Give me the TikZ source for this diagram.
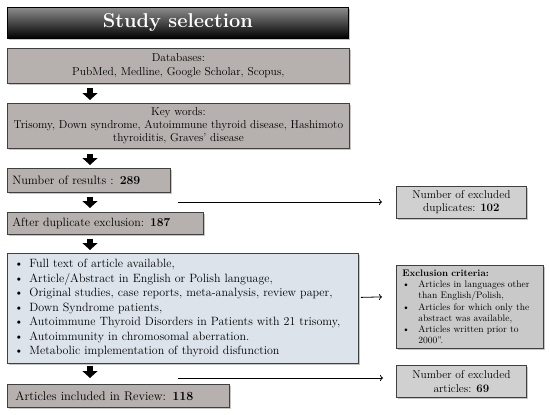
\documentclass[tikz,border=0pt]{standalone}
\usetikzlibrary{shadows,calc,arrows.meta}
\definecolor{boxgray}{HTML}{B6B0AE}
\definecolor{dupgray}{HTML}{D0D0D0}
\definecolor{exgray}{HTML}{C9C9C9}
\definecolor{critblue}{HTML}{DCE3EB}
\definecolor{edge}{HTML}{404040}
\newcommand\bl{\makebox[15pt][l]{\textbullet}}
\newcommand\sbl{\makebox[16pt][l]{\textbullet}}
\tikzset{
  box/.style={draw=edge, line width=0.8pt, anchor=north west, inner sep=0pt,
    drop shadow={shadow xshift=1.5pt, shadow yshift=-1.5pt, opacity=0.45}},
  graybox/.style={box, fill=boxgray},
  barrow/.style={line width=6.5pt, -{Triangle[width=15pt,length=7pt]}},
  thin arrow/.style={line width=0.8pt, -{To[length=3pt,width=6pt]}},
}
\begin{document}
\begin{tikzpicture}[x=1pt,y=-1pt]
\useasboundingbox (0,0) rectangle (550,415);
\node[box, draw=black, top color=black!45, middle color=black, bottom color=black,
  minimum width=341pt, minimum height=31pt, text=white,
  font=\bfseries\fontsize{20}{24}\selectfont] (title) at (7,7) {Study selection};
\node[graybox, minimum width=342pt, minimum height=35pt, align=center,
  font=\fontsize{11.5}{14}\selectfont] (db) at (7,48)
  {Databases:\\PubMed, Medline, Google Scholar, Scopus,};
\node[graybox, minimum width=342pt, minimum height=45pt, align=center,
  font=\fontsize{11.4}{13}\selectfont] (kw) at (7,103)
  {Key words:\\Trisomy, Down syndrome, Autoimmune thyroid disease, Hashimoto\\thyroiditis, Graves' disease};
\node[graybox, minimum width=163pt, minimum height=24pt, text width=153pt, align=left,
  inner xsep=5pt, font=\fontsize{12.2}{14}\selectfont] (nr) at (7,168)
  {Number of results : \textbf{289}};
\node[box, fill=dupgray, minimum width=130pt, minimum height=32pt, align=center,
  font=\fontsize{11.4}{13}\selectfont] (dup) at (396,186)
  {Number of excluded\\duplicates: \textbf{102}};
\node[graybox, minimum width=196pt, minimum height=22pt, text width=186pt, align=left,
  inner xsep=5pt, font=\fontsize{12}{14}\selectfont] (ad) at (7,212)
  {After duplicate exclusion: \textbf{187}};
\node[box, fill=critblue, minimum width=351pt, minimum height=110pt, text width=337pt,
  align=left, inner xsep=7pt, font=\fontsize{12}{14.5}\selectfont] (cr) at (7,253)
  {\bl Full text of article available,\\
   \bl Article/Abstract in English or Polish language,\\
   \bl Original studies, case reports, meta-analysis, review paper,\\
   \bl Down Syndrome patients,\\
   \bl Autoimmune Thyroid Disorders in Patients with 21 trisomy,\\
   \bl Autoimmunity in chromosomal aberration.\\
   \bl Metabolic implementation of thyroid disfunction};
\node[box, fill=exgray, minimum width=147pt, minimum height=83pt, text width=135pt,
  align=left, inner xsep=6pt, font=\fontsize{9.5}{11.3}\selectfont] (ex) at (396,265)
  {\textbf{Exclusion criteria:}\\
   \sbl Articles in languages other\\
   \hspace*{16pt}than English/Polish,\\
   \sbl Articles for which only the\\
   \hspace*{16pt}abstract was available,\\
   \sbl Articles written prior to\\
   \hspace*{16pt}2000''.};
\node[graybox, minimum width=220pt, minimum height=23pt, text width=206pt, align=left,
  inner xsep=8pt, font=\fontsize{12.5}{14}\selectfont] (ai) at (7,384)
  {Articles included in Review: \textbf{118}};
\node[box, fill=dupgray, minimum width=130pt, minimum height=32pt, align=center,
  font=\fontsize{11.4}{14.5}\selectfont] (exa) at (396,365)
  {Number of excluded\\articles: \textbf{69}};
% block arrows
\draw[barrow] ($(db.south west)+(83,4)$) -- ($(kw.north west)+(83,-3)$);
\draw[barrow] ($(kw.south west)+(83,5)$) -- ($(nr.north west)+(83,-3)$);
\draw[barrow] ($(nr.south west)+(83,4)$) -- ($(ad.north west)+(83,-4)$);
\draw[barrow] ($(ad.south west)+(83,4)$) -- ($(cr.north west)+(83,-3)$);
\draw[barrow] ($(cr.south west)+(83,2)$) -- ($(ai.north west)+(83,-6)$);
% side arrows
\coordinate (s1) at (178,202);
\draw[thin arrow] (s1) -- ($(dup.west |- s1)+(-14,0)$);
\draw[thin arrow] ($(cr.east)+(2,-11)$) -- ($(ex.west)+(-14,-10)$);
\coordinate (s2) at (178,378);
\draw[thin arrow] (s2) -- ($(exa.west |- s2)+(-13,0)$);
\end{tikzpicture}
\end{document}
